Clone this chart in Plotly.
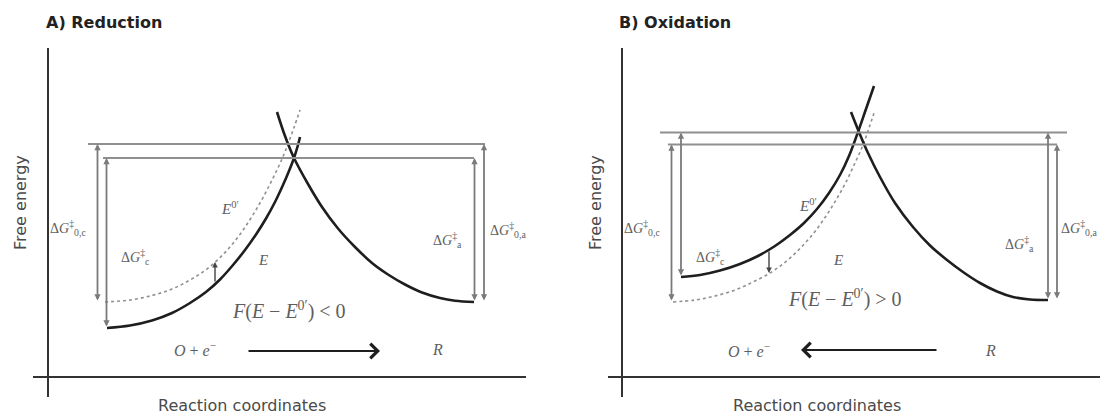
import plotly.graph_objects as go

# ---- free-energy curves (reaction coordinate, free energy) ----
# A) Reduction: electrode potential E below the formal potential E0'
red_ox_x = [59, 82, 104, 124, 142, 158, 172, 185, 197, 208, 218, 227, 235, 241, 246, 250, 252]
red_ox_y = [49, 51.5, 56.5, 64, 74, 85, 97.5, 112, 127, 142.5, 158.5, 175, 192, 206, 219, 232, 240]
red_std_x = [57, 82, 104, 124, 142, 157, 170, 182, 193, 203, 212, 220, 227, 234, 240, 246, 252]
red_std_y = [75, 77, 81.5, 88, 97, 106.5, 117.5, 130, 144, 159, 174, 189, 203, 218, 233, 249.5, 267]
red_r_x = [229, 237, 246, 260, 274, 290, 307, 324, 340, 357, 374, 392, 407, 426]
red_r_y = [265, 241, 219, 193, 170, 148.5, 130, 114, 102.5, 92.5, 84.5, 79, 76.3, 75]

# B) Oxidation: electrode potential E above the formal potential E0'
ox_ox_x = [59, 78, 98, 118, 136, 153, 168, 182, 195, 207, 218, 227, 236, 244, 252]
ox_ox_y = [100, 102, 106.5, 113, 121, 131, 142, 154, 168, 184, 202, 221, 245, 268, 291]
ox_std_x = [51, 73, 93, 113, 131, 148, 164, 178, 191, 203, 214, 224, 233, 241, 247, 253]
ox_std_y = [75, 77, 81, 87, 95, 104, 115.5, 128.5, 143, 159.5, 177, 195, 214, 232, 249, 267]
ox_r_x = [229, 237, 246, 258, 273, 291, 308, 325, 341, 358, 375, 391, 408, 426]
ox_r_y = [265, 245, 224, 200, 174, 150, 131.5, 117, 105, 94, 85.5, 80, 77.5, 77]

# transition-state levels [at E0', at E]
red_ts = [233, 219]
ox_ts = [232.5, 244.5]
# minima [O at E0', O at E, R]
red_min = [75, 49, 75]
ox_min = [75, 100, 77]

# horizontal extent of the transition-state guide lines [E0' level, E level]
red_guide_x = [[40, 437], [55, 426]]
ox_guide_x = [[46, 435], [38, 445]]
# positions of the barrier arrows [left E0', left E, right E, right E0']
red_bar_x = [49.5, 58.5, 426.5, 436]
ox_bar_x = [49.5, 59, 426, 435]
# small arrow showing the shift F(E - E0'): [x, on E curve, on E0' curve]
red_shift = [167, 94, 115]
ox_shift = [147, 127, 104]

INK = "#1e1e1e"
GUIDE = "#8f8f8f"
LABEL = "#5e5e5e"
SERIF = "Liberation Serif"
SANS = "DejaVu Sans"

fig = go.Figure()


def add_panel(xa, ya, ox_x, ox_y, std_x, std_y, r_x, r_y):
    fig.add_trace(go.Scatter(x=std_x, y=std_y, mode="lines", xaxis=xa, yaxis=ya,
                             line=dict(color="#909090", width=1.6, dash="dot",
                                       shape="spline", smoothing=1.0),
                             hoverinfo="skip", showlegend=False))
    for cx, cy in ((ox_x, ox_y), (r_x, r_y)):
        fig.add_trace(go.Scatter(x=cx, y=cy, mode="lines", xaxis=xa, yaxis=ya,
                                 line=dict(color=INK, width=2.6, shape="spline",
                                           smoothing=1.0),
                                 hoverinfo="skip", showlegend=False))


add_panel("x", "y", red_ox_x, red_ox_y, red_std_x, red_std_y, red_r_x, red_r_y)
add_panel("x2", "y2", ox_ox_x, ox_ox_y, ox_std_x, ox_std_y, ox_r_x, ox_r_y)

annotations = []


def guides(xa, ya, ts, mins, guide_x, bar_x, shift):
    # horizontal transition-state lines
    for (x0, x1), lvl in zip(guide_x, ts):
        fig.add_trace(go.Scatter(x=[x0, x1], y=[lvl, lvl], mode="lines",
                                 xaxis=xa, yaxis=ya,
                                 line=dict(color=GUIDE, width=1.8),
                                 hoverinfo="skip", showlegend=False))
    # vertical double-headed barrier arrows
    spans = [(bar_x[0], ts[0], mins[0]), (bar_x[1], ts[1], mins[1]),
             (bar_x[2], ts[1], mins[2]), (bar_x[3], ts[0], mins[2])]
    for bx, top, bot in spans:
        annotations.append(dict(x=bx, y=top, ax=bx, ay=bot, xref=xa, yref=ya,
                                axref=xa, ayref=ya, text="", showarrow=True,
                                arrowhead=2, arrowside="end+start", arrowsize=0.7,
                                arrowwidth=1.8, arrowcolor="#7a7a7a"))
    sx, s_solid, s_dot = shift
    annotations.append(dict(x=sx, y=s_dot, ax=sx, ay=s_solid, xref=xa, yref=ya,
                            axref=xa, ayref=ya, text="", showarrow=True,
                            arrowhead=2, arrowsize=0.8, arrowwidth=1.4,
                            arrowcolor="#444444"))


guides("x", "y", red_ts, red_min, red_guide_x, red_bar_x, red_shift)
guides("x2", "y2", ox_ts, ox_min, ox_guide_x, ox_bar_x, ox_shift)


def label(xa, ya, x, y, text, size=14, anchor="center", color=LABEL):
    annotations.append(dict(x=x, y=y, xref=xa, yref=ya, text=text, showarrow=False,
                            xanchor=anchor, yanchor="middle",
                            font=dict(family=SERIF, size=size, color=color)))


dG = "Δ<i>G</i><sup>‡</sup>"
E0 = "<i>E</i><sup>0′</sup>"

# panel A labels
label("x", "y", 182, 169, E0, size=15)
label("x", "y", 215, 117, "<i>E</i>", size=15)
label("x", "y", 87, 120, dG + "<sub>c</sub>")
label("x", "y", 20, 149, dG + "<sub>0,c</sub>")
label("x", "y", 399, 137, dG + "<sub>a</sub>")
label("x", "y", 460, 147, dG + "<sub>0,a</sub>")
label("x", "y", 241, 67, "<i>F</i>(<i>E</i> − " + E0 + ") &lt; 0", size=20)
label("x", "y", 147, 28, "<i>O</i> + <i>e</i><sup>−</sup>", size=16)
label("x", "y", 389, 28, "<i>R</i>", size=16)
annotations.append(dict(x=332, y=26, ax=199, ay=26, xref="x", yref="y",
                        axref="x", ayref="y", text="", showarrow=True,
                        arrowhead=4, arrowsize=1.3, arrowwidth=2.2, arrowcolor=INK))

# panel B labels
label("x2", "y2", 186, 172, E0, size=15)
label("x2", "y2", 216, 117, "<i>E</i>", size=15)
label("x2", "y2", 88, 120, dG + "<sub>c</sub>")
label("x2", "y2", 20, 149, dG + "<sub>0,c</sub>")
label("x2", "y2", 397, 133, dG + "<sub>a</sub>")
label("x2", "y2", 477, 149, dG + "<sub>0,a</sub>", anchor="right")
label("x2", "y2", 223, 79, "<i>F</i>(<i>E</i> − " + E0 + ") &gt; 0", size=20)
label("x2", "y2", 127, 27, "<i>O</i> + <i>e</i><sup>−</sup>", size=16)
label("x2", "y2", 368, 27, "<i>R</i>", size=16)
annotations.append(dict(x=179, y=27, ax=316, ay=27, xref="x2", yref="y2",
                        axref="x2", ayref="y2", text="", showarrow=True,
                        arrowhead=4, arrowsize=1.3, arrowwidth=2.2, arrowcolor=INK))

# panel titles and axis names
for px, title in ((44, "A) Reduction"), (617, "B) Oxidation")):
    annotations.append(dict(x=px / 1100, y=1 - 22 / 414, xref="paper", yref="paper",
                            text="<b>" + title + "</b>", showarrow=False,
                            xanchor="left", yanchor="middle",
                            font=dict(family=SANS, size=16, color="#222222")))
for px in (21, 596):
    annotations.append(dict(x=px / 1100, y=1 - 203 / 414, xref="paper", yref="paper",
                            text="Free energy", textangle=-90, showarrow=False,
                            xanchor="center", yanchor="middle",
                            font=dict(family=SANS, size=16, color="#4a4a4a")))
for px in (242, 817):
    annotations.append(dict(x=px / 1100, y=1 - 405 / 414, xref="paper", yref="paper",
                            text="Reaction coordinates", showarrow=False,
                            xanchor="center", yanchor="middle",
                            font=dict(family=SANS, size=16, color="#4a4a4a")))

axis_common = dict(showgrid=False, showticklabels=False, ticks="", showline=False,
                   zeroline=True, zerolinecolor="#333333", zerolinewidth=1.6,
                   fixedrange=True)

fig.update_layout(
    width=1100, height=414,
    margin=dict(l=0, r=0, t=0, b=0),
    paper_bgcolor="white", plot_bgcolor="white",
    xaxis=dict(domain=[33 / 1100, 526 / 1100], range=[-15, 478], **axis_common),
    yaxis=dict(domain=[17 / 414, 366 / 414], range=[-20, 329], **axis_common),
    xaxis2=dict(domain=[608 / 1100, 1.0], range=[-14, 478], anchor="y2", **axis_common),
    yaxis2=dict(domain=[17 / 414, 366 / 414], range=[-20, 329], anchor="x2",
                **axis_common),
    annotations=annotations,
)

fig.write_html("out.html")
